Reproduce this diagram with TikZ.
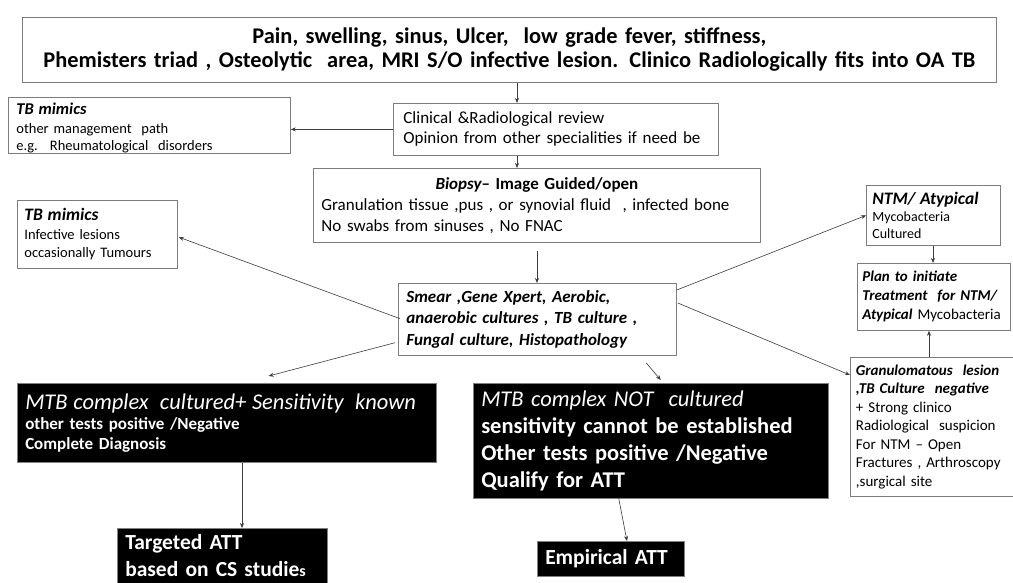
\documentclass[tikz,border=0pt]{standalone}
\usepackage{fontspec}
\setmainfont{Carlito}
\usetikzlibrary{arrows.meta,calc}
\definecolor{boxgray}{RGB}{125,125,125}
\definecolor{arrgray}{RGB}{60,60,60}
\begin{document}
\begin{tikzpicture}[x=1pt,y=-1pt,
  box/.style={draw=boxgray,line width=0.8pt,inner xsep=8pt,inner ysep=1pt,align=left,anchor=north west,fill=white},
  blk/.style={fill=black,draw=gray,line width=0.5pt,text=white,inner xsep=8pt,inner ysep=1pt,align=left,anchor=north west},
  arr/.style={-{Stealth[length=5pt,width=4pt]},draw=arrgray,line width=0.6pt}]
\useasboundingbox (0,0) rectangle (1013,583);
\fill[white] (0,0) rectangle (1013,583);

\node[box,minimum width=974pt,minimum height=65pt,text width=958pt,align=center,
  font=\fontsize{22.4}{24}\selectfont\bfseries] (top) at (22,17)
  {Pain, swelling, sinus, Ulcer, \ low grade fever, stiffness,\\
   Phemisters triad , Osteolytic \ area, MRI S/O infective lesion. Clinico Radiologically fits into OA TB};

\node[box,minimum width=325pt,minimum height=52pt,text width=305pt,inner xsep=10pt,
  font=\fontsize{17}{20}\selectfont] (clin) at (393,103)
  {Clinical \&Radiological review\\Opinion from other specialities if need be};

\node[box,minimum width=282pt,minimum height=50pt,text width=266pt,
  font=\fontsize{14.5}{17}\selectfont] (tbm1) at (8,97)
  {\rule{0pt}{16pt}{\fontsize{16.5}{17}\selectfont\bfseries\itshape TB mimics}\\[2pt]other management \ path\\e.g. \ Rheumatological \ disorders};

\node[box,minimum width=447pt,minimum height=74pt,text width=431pt,
  font=\fontsize{17}{21}\selectfont] (bio) at (313,168)
  {\hfill{\bfseries\itshape Biopsy}{\bfseries-- Image Guided/open}\hfill\null\\
   Granulation tissue ,pus , or synovial fluid \ , infected bone\\
   No swabs from sinuses , No FNAC};

\node[box,minimum width=160pt,minimum height=68pt,text width=146pt,inner xsep=7pt,
  font=\fontsize{14.5}{18.5}\selectfont] (tbm2) at (17,200)
  {{\fontsize{17.5}{18.5}\selectfont\bfseries\itshape TB mimics}\\Infective lesions\\occasionally Tumours};

\node[box,minimum width=278pt,minimum height=72pt,text width=262pt,
  font=\fontsize{17}{21.5}\selectfont\bfseries\itshape] (smear) at (398,283)
  {Smear ,Gene Xpert, Aerobic,\\anaerobic cultures , TB culture ,\\Fungal culture, Histopathology};

\node[box,minimum width=134pt,minimum height=60pt,text width=122pt,inner xsep=6pt,
  font=\fontsize{14}{17}\selectfont] (ntm) at (866,185)
  {{\fontsize{17.5}{17}\selectfont\bfseries\itshape NTM/ Atypical}\\Mycobacteria\\Cultured};

\node[box,minimum width=153pt,minimum height=67pt,text width=143pt,inner xsep=5pt,
  font=\fontsize{15}{19}\selectfont] (plan) at (857,263)
  {{\bfseries\itshape Plan to initiate}\\{\bfseries\itshape Treatment \ for NTM/}\\{\bfseries\itshape Atypical} Mycobacteria};

\node[box,minimum width=162.5pt,minimum height=139pt,text width=152pt,inner xsep=5.5pt,
  font=\fontsize{15}{18.5}\selectfont] (gran) at (850,357)
  {{\bfseries\itshape Granulomatous \ lesion}\\{\bfseries\itshape ,TB Culture \ negative}\\+ Strong clinico\\Radiological \ suspicion\\For NTM -- Open\\Fractures , Arthroscopy\\,surgical site};

\node[blk,minimum width=419pt,minimum height=79pt,text width=403pt,
  font=\fontsize{17}{20}\selectfont\bfseries] (mtb1) at (17,383)
  {{\fontsize{22.5}{25}\selectfont\mdseries\itshape MTB complex \ cultured+ Sensitivity \ known}\\other tests positive /Negative\\Complete Diagnosis};

\node[blk,minimum width=355pt,minimum height=115pt,text width=339pt,
  font=\fontsize{22.5}{27}\selectfont\bfseries] (mtb2) at (473,383)
  {{\mdseries\itshape MTB complex NOT \ cultured}\\sensitivity cannot be established\\Other tests positive /Negative\\Qualify for ATT};

\node[blk,minimum width=210pt,minimum height=55pt,text width=194pt,
  font=\fontsize{21.5}{27}\selectfont\bfseries] (targ) at (117,528)
  {Targeted ATT\\based on CS studie{\fontsize{16}{27}\selectfont s}};

\node[blk,minimum width=147pt,minimum height=35pt,text width=131pt,
  font=\fontsize{21.5}{24}\selectfont\bfseries] (emp) at (537,541)
  {Empirical ATT};

% connector helper coordinates
\coordinate (xa) at (517,0);
\coordinate (xb) at (537,0);
\coordinate (xc) at (933,0);
\coordinate (xd) at (929,0);
\coordinate (xe) at (242,0);

\draw[arr] (xa |- top.south) -- (xa |- clin.north);
\draw[arr] (clin.west) -- (clin.west -| tbm1.east);
\draw[arr] (xa |- clin.south) -- (xa |- bio.north);
\draw[arr,shorten <=8pt] (xb |- bio.south) -- (xb |- smear.north);
\draw[arr] ($(smear.north west)!0.49!(smear.south west)+(2,0)$) -- ($(tbm2.north east)!0.54!(tbm2.south east)+(1,0)$);
\draw[arr] ($(smear.north west)!0.82!(smear.south west)+(-3,0)$) -- ($(mtb1.north west)!0.6!(mtb1.north east)+(0,-7)$);
\draw[arr] ($(smear.south west)!0.89!(smear.south east)+(0,7)$) -- ($(mtb2.north west)!0.5!(mtb2.north east)+(10,-3)$);
\draw[arr] ($(smear.north east)+(0,7)$) -- (ntm.west);
\draw[arr] ($(smear.north east)+(1,20)$) -- ($(gran.north west)+(0,18)$);
\draw[arr] (xc |- ntm.south) -- (xc |- plan.north);
\draw[arr] (xd |- gran.north) -- (xd |- plan.south);
\draw[arr] (xe |- mtb1.south) -- (xe |- targ.north);
\draw[arr] ($(mtb2.south west)!0.41!(mtb2.south east)$) -- ($(emp.north west)!0.61!(emp.north east)$);
\end{tikzpicture}
\end{document}
